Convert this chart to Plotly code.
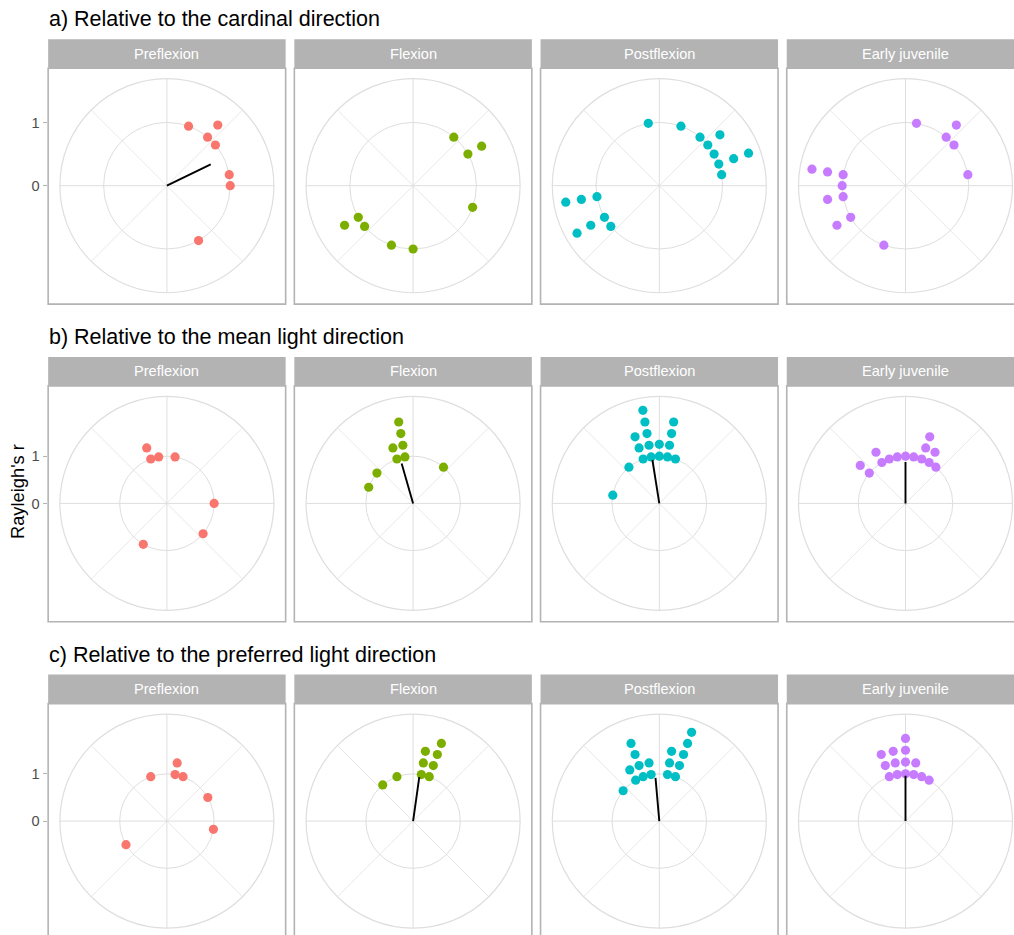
import plotly.graph_objects as go

# ---------------------------------------------------------------- data
stages = ["Preflexion", "Flexion", "Postflexion", "Early juvenile"]
stage_colors = ["#F8766D", "#7CAE00", "#00BFC4", "#C77CFF"]
row_titles = [
    "a) Relative to the cardinal direction",
    "b) Relative to the mean light direction",
    "c) Relative to the preferred light direction",
]

# a) cardinal direction: heading (deg, clockwise from north) and stacked radius
a_pre_theta = [20, 40, 40, 50, 80, 90, 150]
a_pre_r = [1, 1.25, 1, 1, 1, 1, 1]
a_flex_theta = [40, 60, 60, 110, 180, 200, 230, 240, 240]
a_flex_r = [1, 1.25, 1, 1, 1, 1, 1, 1, 1.25]
a_post_theta = [350, 20, 40, 50, 50, 60, 70, 70, 70, 80, 260, 260, 260, 240, 230, 240, 240]
a_post_r = [1, 1, 1, 1.25, 1, 1, 1.25, 1.5, 1, 1, 1, 1.25, 1.5, 1, 1, 1.25, 1.5]
a_juv_theta = [10, 40, 40, 50, 80, 200, 240, 240, 260, 260, 270, 280, 280, 280]
a_juv_r = [1, 1.25, 1, 1, 1, 1, 1, 1.25, 1, 1.25, 1, 1, 1.25, 1.5]

# b) mean light direction
b_pre_theta = [340, 340, 350, 10, 90, 130, 210]
b_pre_r = [1.25, 1, 1, 1, 1, 1, 1]
b_flex_theta = [350, 350, 350, 350, 340, 340, 310, 290, 40]
b_flex_r = [1.75, 1.5, 1.25, 1, 1.25, 1, 1, 1, 1]
b_post_theta = [350, 350, 350, 350, 350, 340, 340, 340, 0, 0, 10, 10, 10, 10, 20, 320, 280]
b_post_r = [2, 1.75, 1.5, 1.25, 1, 1.5, 1.25, 1, 1.25, 1, 1, 1.25, 1.5, 1.75, 1, 1, 1]
b_juv_theta = [0, 350, 340, 330, 330, 310, 310, 10, 20, 30, 20, 20, 30, 40]
b_juv_r = [1, 1, 1, 1, 1.25, 1, 1.25, 1, 1, 1, 1.25, 1.5, 1.25, 1]

# c) preferred light direction
c_pre_theta = [10, 10, 20, 340, 60, 100, 240]
c_pre_r = [1.25, 1, 1, 1, 1, 1, 1]
c_flex_theta = [10, 20, 10, 20, 10, 20, 20, 340, 320]
c_flex_r = [1, 1, 1.25, 1.25, 1.5, 1.5, 1.75, 1, 1]
c_post_theta = [350, 340, 330, 310, 350, 340, 330, 340, 340, 10, 20, 10, 20, 10, 20, 20, 20]
c_post_r = [1, 1, 1, 1, 1.25, 1.25, 1.25, 1.5, 1.75, 1, 1, 1.25, 1.25, 1.5, 1.5, 1.75, 2]
c_juv_theta = [0, 350, 340, 10, 20, 30, 0, 350, 340, 10, 0, 350, 340, 0]
c_juv_r = [1, 1, 1, 1, 1, 1, 1.25, 1.25, 1.25, 1.25, 1.5, 1.5, 1.5, 1.75]

# mean resultant vector (Rayleigh's r, mean angle); None = not drawn
a_mean = [(0.77, 64), None, None, None]
b_mean = [None, (0.88, 344), (0.93, 351), (0.876, 0)]
c_mean = [None, (0.94, 8), (0.92, 355), (0.96, 0)]

y_ticks = [0, 1]
y_ticklabels = ["0", "1"]
y_title = "Rayleigh's r"

rows = [
    ([(a_pre_theta, a_pre_r), (a_flex_theta, a_flex_r),
      (a_post_theta, a_post_r), (a_juv_theta, a_juv_r)], a_mean),
    ([(b_pre_theta, b_pre_r), (b_flex_theta, b_flex_r),
      (b_post_theta, b_post_r), (b_juv_theta, b_juv_r)], b_mean),
    ([(c_pre_theta, c_pre_r), (c_flex_theta, c_flex_r),
      (c_post_theta, c_post_r), (c_juv_theta, c_juv_r)], c_mean),
]
row_rmax = [1.69, 2.265, 2.265]

# ---------------------------------------------------------------- layout geometry (px)
W, H = 1014, 935
COL_CX = [166.9, 413.1, 659.3, 905.5]
ROW_CY = [185.7, 503.4, 821.1]
R_PX = 107            # radius of the outer circle
PANEL_HW = 118.75     # half width of a panel
PANEL_TOP = 117.5     # panel top above centre
PANEL_BOT = 118.4     # panel bottom below centre
STRIP_H = 29
TITLE_DY = 166.5      # title centre above panel centre

GRID = "#DEDEDE"
GREY70 = "#B3B3B3"
FONT = "Liberation Sans, Arial, sans-serif"


def fx(x):
    return x / W


def fy(y):
    return 1 - y / H


fig = go.Figure()
layout = dict(
    width=W, height=H, autosize=False,
    margin=dict(l=0, r=0, t=0, b=0),
    paper_bgcolor="white", plot_bgcolor="white",
    showlegend=False,
    font=dict(family=FONT, color="black"),
)
shapes, annotations = [], []

diag_theta = []
diag_r_template = []
for ang in (45, 135, 225, 315):
    diag_theta += [ang, ang, None]

for ri, (panels, means) in enumerate(rows):
    cy = ROW_CY[ri]
    rmax = row_rmax[ri]
    for ci, (theta, r) in enumerate(panels):
        cx = COL_CX[ci]
        k = ri * 4 + ci + 1
        pname = "polar" if k == 1 else f"polar{k}"

        layout[pname] = dict(
            domain=dict(x=[fx(cx - R_PX), fx(cx + R_PX)],
                        y=[fy(cy + R_PX), fy(cy - R_PX)]),
            bgcolor="rgba(0,0,0,0)",
            radialaxis=dict(range=[0, rmax], tickvals=[1], showticklabels=False,
                            ticks="", showline=False, showgrid=True,
                            gridcolor=GRID, gridwidth=1.2),
            angularaxis=dict(rotation=90, direction="clockwise",
                             tickvals=[0, 90, 180, 270], showticklabels=False,
                             ticks="", showgrid=True, gridcolor=GRID, gridwidth=1.2,
                             showline=True, linecolor=GRID, linewidth=1.2),
        )

        # minor (diagonal) spokes
        fig.add_trace(go.Scatterpolar(
            r=[0, rmax, None] * 4, theta=diag_theta, mode="lines",
            line=dict(color=GRID, width=0.7), hoverinfo="skip", subplot=pname))

        # individual headings
        fig.add_trace(go.Scatterpolar(
            r=r, theta=theta, mode="markers",
            marker=dict(size=9.2, color=stage_colors[ci], line=dict(width=0)),
            name=stages[ci], subplot=pname))

        # mean vector
        if means[ci] is not None:
            mr, mt = means[ci]
            fig.add_trace(go.Scatterpolar(
                r=[0, mr], theta=[mt, mt], mode="lines",
                line=dict(color="black", width=1.9), hoverinfo="skip",
                subplot=pname))

        # panel border and strip
        left, right = cx - PANEL_HW, cx + PANEL_HW
        top, bot = cy - PANEL_TOP, cy + PANEL_BOT
        shapes.append(dict(type="rect", xref="paper", yref="paper",
                           x0=fx(left), x1=fx(right), y0=fy(top - STRIP_H), y1=fy(top),
                           fillcolor=GREY70, line=dict(width=0), layer="above"))
        shapes.append(dict(type="rect", xref="paper", yref="paper",
                           x0=fx(left), x1=fx(right), y0=fy(bot), y1=fy(top),
                           fillcolor="rgba(0,0,0,0)", line=dict(color=GREY70, width=1.6),
                           layer="above"))
        annotations.append(dict(text=stages[ci], xref="paper", yref="paper",
                                x=fx(cx), y=fy(top - STRIP_H / 2),
                                xanchor="center", yanchor="middle", showarrow=False,
                                font=dict(size=14.6, color="white", family=FONT)))

    # row title
    annotations.append(dict(text=row_titles[ri], xref="paper", yref="paper",
                            x=fx(46.5), y=fy(cy - TITLE_DY), xanchor="left",
                            yanchor="middle", showarrow=False,
                            font=dict(size=21.5, color="black", family=FONT)))

    # radial scale shown as a left axis
    xa = "xaxis" if ri == 0 else f"xaxis{ri + 1}"
    ya = "yaxis" if ri == 0 else f"yaxis{ri + 1}"
    xs = "x" if ri == 0 else f"x{ri + 1}"
    ys = "y" if ri == 0 else f"y{ri + 1}"
    left0 = COL_CX[0] - PANEL_HW
    layout[xa] = dict(domain=[fx(left0), fx(left0 + 2 * PANEL_HW)], anchor=ys,
                      visible=False, range=[-1, 1])
    layout[ya] = dict(domain=[fy(cy + R_PX), fy(cy - R_PX)], anchor=xs,
                      range=[-rmax, rmax], tickvals=y_ticks, ticktext=y_ticklabels,
                      ticks="outside", ticklen=4.6, tickwidth=1.2, tickcolor=GREY70,
                      showgrid=False, zeroline=False, showline=False,
                      tickfont=dict(size=14.6, color="#4D4D4D", family=FONT))
    fig.add_trace(go.Scatter(x=[None], y=[None], xaxis=xs, yaxis=ys,
                             hoverinfo="skip", showlegend=False))

annotations.append(dict(text=y_title, xref="paper", yref="paper",
                        x=fx(17), y=fy(492), textangle=-90,
                        xanchor="center", yanchor="middle", showarrow=False,
                        font=dict(size=18.3, color="black", family=FONT)))

layout["shapes"] = shapes
layout["annotations"] = annotations
fig.update_layout(**layout)
fig.write_html("out.html")
